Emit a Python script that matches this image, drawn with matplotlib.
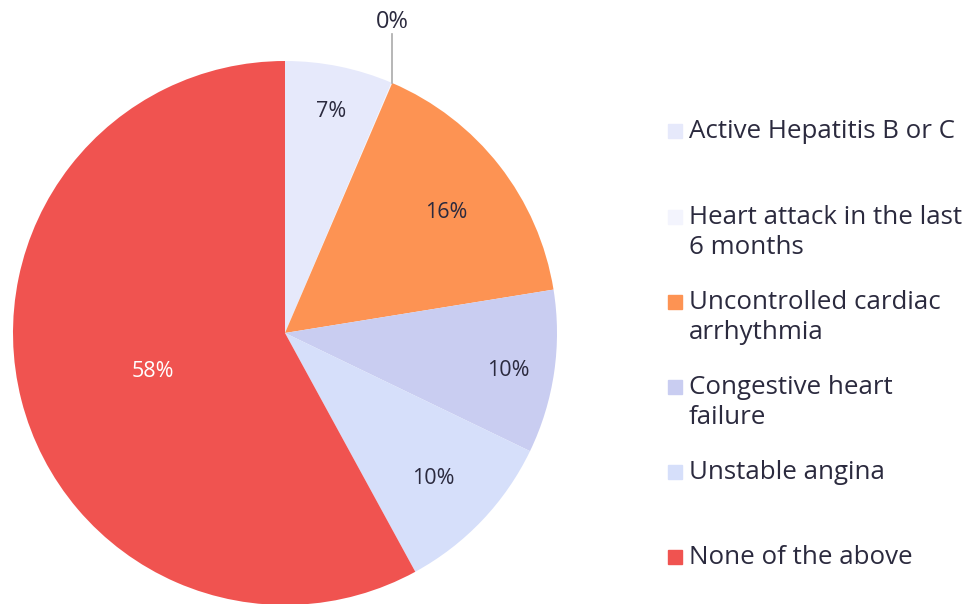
import matplotlib.pyplot as plt
from matplotlib.patches import Rectangle
import numpy as np

# valores (porcentaje)
categorias = ["Active Hepatitis B or C", "Heart attack in the last\n6 months",
              "Uncontrolled cardiac\narrhythmia", "Congestive heart\nfailure",
              "Unstable angina", "None of the above"]
valores = [6.4, 0.05, 16.0, 9.7, 9.9, 57.95]
etiquetas = ["7%", "0%", "16%", "10%", "10%", "58%"]
colores = ["#e6e9fb", "#f3f4fd", "#fd9353", "#c9cdf1", "#d6dffa", "#f05350"]
dist_etiqueta = [0.85, None, 0.75, 0.83, 0.75, 0.50]

plt.rcParams['font.family'] = ['Open Sans', 'DejaVu Sans']
texto = "#2b2a3e"

fig = plt.figure(figsize=(9.73, 6.04), dpi=100)
W, H = 973, 604
cx, cy, r = 285, 333, 272
ax = fig.add_axes([(cx - r) / W, (H - cy - r) / H, 2 * r / W, 2 * r / H])

wedges, _ = ax.pie(valores, colors=colores, startangle=90, counterclock=False,
                   radius=1, wedgeprops=dict(linewidth=0))
ax.set_xlim(-1, 1)
ax.set_ylim(-1, 1)
ax.set_aspect('equal')
ax.axis('off')

for w, lab, d, col in zip(wedges, etiquetas, dist_etiqueta, colores):
    ang = np.deg2rad((w.theta1 + w.theta2) / 2)
    x, y = np.cos(ang), np.sin(ang)
    if d is None:
        # rebanada de 0%: linea guia hacia arriba
        ax.plot([x, x], [y, y + 0.18], color="#aaaaaa", lw=1.2, clip_on=False)
        ax.text(x, y + 0.18, lab, ha='center', va='bottom', fontsize=17,
                color=texto, clip_on=False)
        continue
    c = "white" if col == "#f05350" else texto
    ax.text(x * d, y * d - 0.018, lab, ha='center', va='center', fontsize=15.5,
            color=c)

# leyenda manual
y_items = [131, 217, 302, 387, 472, 557]
for cat, col, yy in zip(categorias, colores, y_items):
    fig.patches.append(Rectangle(((668) / W, 1 - (yy + 7) / H), 14 / W, 14 / H,
                                 transform=fig.transFigure, color=col))
    fig.text(689 / W, 1 - (yy - 12) / H, cat, ha='left', va='top', fontsize=18.6,
             color=texto, linespacing=1.25)

plt.savefig("out.png", dpi=100)
